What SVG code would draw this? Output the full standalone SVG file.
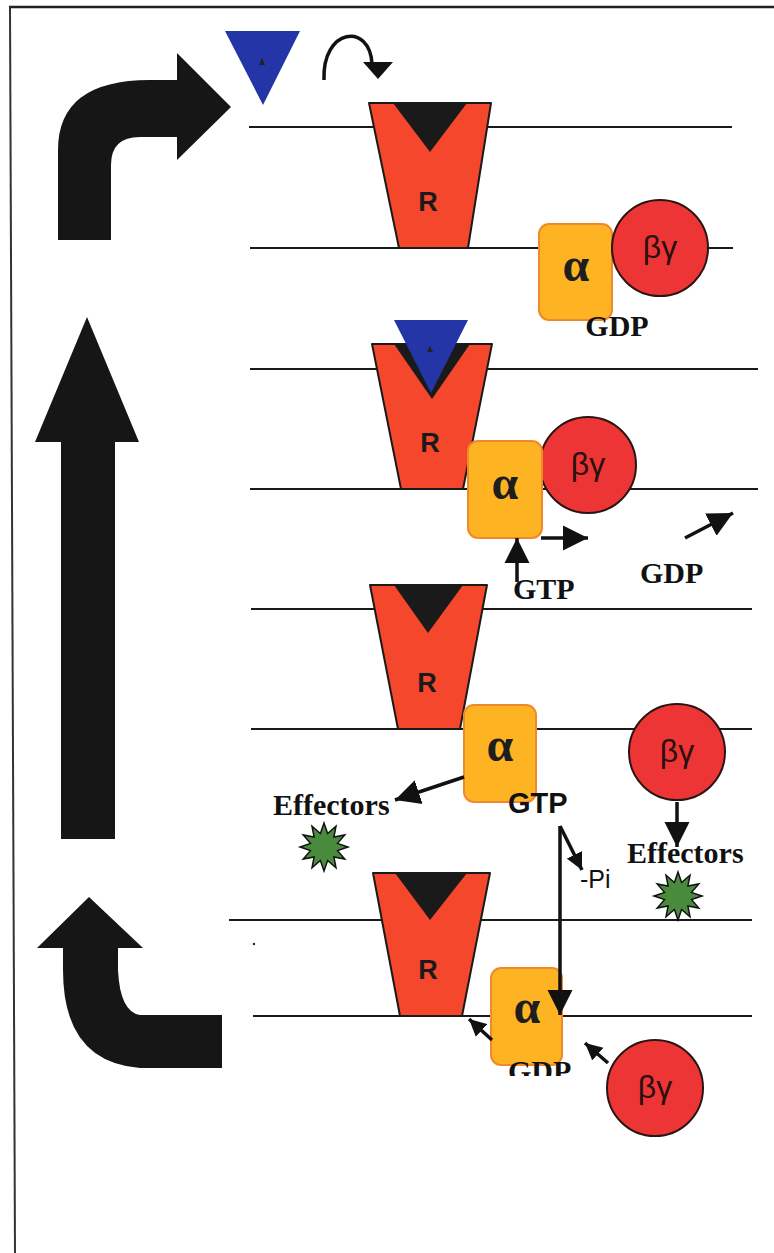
<svg xmlns="http://www.w3.org/2000/svg" width="774" height="1253" viewBox="0 0 774 1253">
  <style>
    .mem { stroke: #1a1a1a; stroke-width: 2; fill: none; }
    .rec { fill: #F4472C; stroke: #1a1a1a; stroke-width: 2; stroke-linejoin: round; }
    .pocket { fill: #1a1a1a; }
    .alpha { fill: #FDB322; stroke: #EE8A2C; stroke-width: 2; }
    .bg { fill: #EE3535; stroke: #2a1414; stroke-width: 2; }
    .lig { fill: #2435A8; }
    .star { fill: #4A8A3C; stroke: #111; stroke-width: 1.5; stroke-linejoin: miter; }
    .big { fill: #161616; }
    .conn { stroke: #111; stroke-width: 3.5; fill: none; }
    .rlab { font-family: "Liberation Sans", Arial, sans-serif; font-weight: bold; font-size: 27px; fill: #1a1a1a; text-anchor: middle; }
    .alab { font-family: "Liberation Serif", "Times New Roman", serif; font-weight: bold; font-size: 48px; fill: #1e1e1e; text-anchor: middle; }
    .blab { font-family: "Liberation Sans", Arial, sans-serif; font-size: 32px; fill: #2a1010; text-anchor: middle; }
    .tlab { font-family: "Liberation Serif", "Times New Roman", serif; font-weight: bold; font-size: 30px; fill: #111; }
    .slab { font-family: "Liberation Sans", Arial, sans-serif; font-weight: bold; font-size: 29px; fill: #111; }
    .plab { font-family: "Liberation Sans", Arial, sans-serif; font-size: 25px; fill: #111; }
  </style>
  <defs>
    <marker id="head" viewBox="0 0 10 10" refX="10" refY="5" markerUnits="userSpaceOnUse" markerWidth="25" markerHeight="26" orient="auto">
      <path d="M0,0 L10,5 L0,10 Z" fill="#111"/>
    </marker>
    <marker id="headS" viewBox="0 0 10 10" refX="10" refY="5" markerUnits="userSpaceOnUse" markerWidth="17" markerHeight="18" orient="auto">
      <path d="M0,0 L10,5 L0,10 Z" fill="#111"/>
    </marker>
    <polygon id="starShape" points="24,0 13.52,3.62 20.78,12 9.9,9.9 12,20.78 3.62,13.52 0,24 -3.62,13.52 -12,20.78 -9.9,9.9 -20.78,12 -13.52,3.62 -24,0 -13.52,-3.62 -20.78,-12 -9.9,-9.9 -12,-20.78 -3.62,-13.52 0,-24 3.62,-13.52 12,-20.78 9.9,-9.9 20.78,-12 13.52,-3.62"/>
    <clipPath id="gdpClip">
      <rect x="490" y="1040" width="120" height="36"/>
    </clipPath>
  </defs>

  <rect width="774" height="1253" fill="#ffffff"/>

  <!-- frame -->
  <g id="frame">
    <line x1="9" y1="7" x2="774" y2="7" stroke="#222" stroke-width="2.5"/>
    <line x1="10" y1="7" x2="15" y2="1253" stroke="#333" stroke-width="2"/>
  </g>

  <!-- cycle arrows -->
  <g id="cycle-arrows">
    <path class="big" d="M58,240 L58,150 Q58,80 150,80 L177,80 L177,53 L231,107 L177,160 L177,137 L140,137 Q111,137 111,165 L111,240 Z"/>
    <path class="big" d="M61,839 L61,442 L35,442 L87,317 L139,442 L115,442 L115,839 Z"/>
    <path class="big" d="M37,948 L89,897 L143,948 L118,948 L118,970 Q120,1012 140,1015 L222,1015 L222,1068 L140,1068 Q63,1062 63,970 L63,948 Z"/>
  </g>

  <!-- free ligand -->
  <g id="ligand">
    <polygon class="lig" points="225,31 300,31 263,105"/>
    <polygon fill="#222" points="262,58 265,65 259,65"/>
  </g>

  <!-- membranes -->
  <g id="membranes">
    <line class="mem" x1="249" y1="127" x2="732" y2="127"/>
    <line class="mem" x1="250" y1="248" x2="733" y2="248"/>
    <line class="mem" x1="250" y1="369" x2="758" y2="369"/>
    <line class="mem" x1="250" y1="489" x2="758" y2="489"/>
    <line class="mem" x1="251" y1="609" x2="752" y2="609"/>
    <line class="mem" x1="251" y1="729" x2="752" y2="729"/>
    <line class="mem" x1="229" y1="920" x2="752" y2="920"/>
    <line class="mem" x1="253" y1="1016" x2="752" y2="1016"/>
    <circle cx="254" cy="944" r="1.2" fill="#222"/>
  </g>

  <!-- stage 1: resting -->
  <g id="receptor-1">
    <polygon class="rec" points="369,103 491,103 468,248 399,248"/>
    <polygon class="pocket" points="393,103 467,103 430,152"/>
    <text class="rlab" x="428" y="211">R</text>
  </g>
  <g id="alpha-1">
    <rect class="alpha" x="539" y="224" width="73" height="96" rx="10"/>
    <text class="alab" x="576" y="281">α</text>
  </g>
  <g id="betagamma-1">
    <circle class="bg" cx="660" cy="248" r="48"/>
    <text class="blab" x="660" y="258">βγ</text>
  </g>
  <g id="gdp-1"><text class="tlab" x="617" y="336" text-anchor="middle">GDP</text></g>

  <!-- stage 2: ligand bound, nucleotide exchange -->
  <g id="receptor-2">
    <polygon class="rec" points="372,344 492,344 463,489 401,489"/>
    <polygon class="pocket" points="394,344 470,344 432,399"/>
    <polygon class="lig" points="394,320 468,320 431,393"/>
    <polygon fill="#222" points="430,346 433,352 427,352"/>
    <text class="rlab" x="430" y="452">R</text>
  </g>
  <g id="betagamma-2">
    <circle class="bg" cx="588" cy="465" r="48"/>
    <text class="blab" x="588" y="475">βγ</text>
  </g>
  <g id="alpha-2">
    <rect class="alpha" x="468" y="441" width="74" height="97" rx="10"/>
    <text class="alab" x="505" y="499">α</text>
  </g>
  <g id="gtp-2"><text class="tlab" x="513" y="599">GTP</text></g>
  <g id="gdp-2"><text class="tlab" x="640" y="583">GDP</text></g>

  <!-- stage 3: dissociated subunits act on effectors -->
  <g id="receptor-3">
    <polygon class="rec" points="370,585 487,585 460,729 398,729"/>
    <polygon class="pocket" points="394,585 463,585 428,633"/>
    <text class="rlab" x="427" y="692">R</text>
  </g>
  <g id="alpha-3">
    <rect class="alpha" x="464" y="705" width="72" height="97" rx="10"/>
    <text class="alab" x="500" y="761">α</text>
  </g>
  <g id="betagamma-3">
    <circle class="bg" cx="677" cy="752" r="48"/>
    <text class="blab" x="677" y="762">βγ</text>
  </g>
  <g id="gtp-3"><text class="slab" x="508" y="813">GTP</text></g>
  <g id="effectors-left">
    <text class="tlab" x="273" y="815">Effectors</text>
    <use href="#starShape" class="star" transform="translate(324,847)"/>
  </g>
  <g id="effectors-right">
    <text class="tlab" x="627" y="863">Effectors</text>
    <use href="#starShape" class="star" transform="translate(678,896)"/>
  </g>
  <g id="pi"><text class="plab" x="580" y="888">-Pi</text></g>

  <!-- stage 4: hydrolysis and reassociation -->
  <g id="receptor-4">
    <polygon class="rec" points="373,873 490,873 462,1016 400,1016"/>
    <polygon class="pocket" points="395,873 467,873 430,920"/>
    <text class="rlab" x="428" y="979">R</text>
  </g>
  <g id="alpha-4">
    <rect class="alpha" x="491" y="968" width="71" height="97" rx="10"/>
    <text class="alab" x="527" y="1023">α</text>
  </g>
  <g id="gdp-4"><text class="tlab" x="508" y="1081" clip-path="url(#gdpClip)">GDP</text></g>
  <g id="betagamma-4">
    <circle class="bg" cx="655" cy="1088" r="48"/>
    <text class="blab" x="655" y="1098">βγ</text>
  </g>

  <!-- connectors -->
  <g id="connectors">
    <path class="conn" stroke-width="5" d="M324,80 C322,28 370,22 372,64"/>
    <polygon fill="#111" points="363,62 393,62 378,79"/>
    <line class="conn" x1="517" y1="582" x2="517" y2="538" marker-end="url(#head)"/>
    <line class="conn" x1="541" y1="538" x2="588" y2="538" marker-end="url(#head)"/>
    <line class="conn" x1="685" y1="538" x2="733" y2="513" marker-end="url(#head)"/>
    <line class="conn" stroke-width="4" x1="464" y1="777" x2="395" y2="800" marker-end="url(#head)"/>
    <line class="conn" x1="677" y1="802" x2="677" y2="847" marker-end="url(#head)"/>
    <line class="conn" stroke-width="2.5" x1="560" y1="826" x2="582" y2="870" marker-end="url(#headS)"/>
    <line class="conn" stroke-width="2.5" x1="560" y1="826" x2="560" y2="1015" marker-end="url(#head)"/>
    <line class="conn" x1="492" y1="1040" x2="469" y2="1019" marker-end="url(#headS)"/>
    <line class="conn" x1="608" y1="1063" x2="585" y2="1043" marker-end="url(#headS)"/>
  </g>
</svg>
